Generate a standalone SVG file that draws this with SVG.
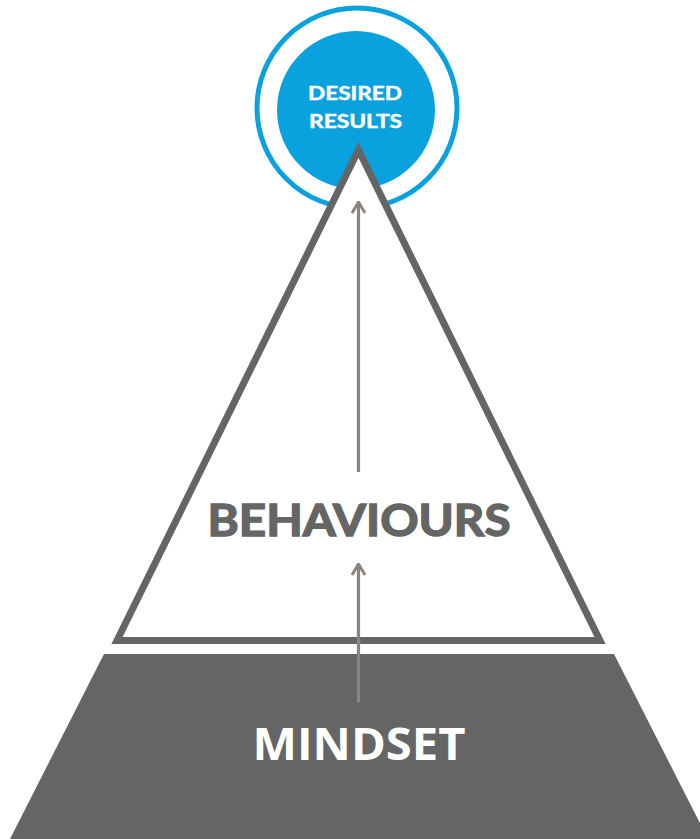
<svg xmlns="http://www.w3.org/2000/svg" width="700" height="839" viewBox="0 0 700 839">
<defs>
<style>
.blue{fill:#0aa1df}
.ring{fill:none;stroke:#0aa1df;stroke-width:5}
.tri{fill:#ffffff;stroke:#646564;stroke-width:7;stroke-linejoin:miter}
.base{fill:#646564}
.conn{stroke:#8d8480;stroke-width:3.2;fill:none}
.lbl{font-family:"Lato","Liberation Sans",sans-serif;font-weight:bold;text-anchor:middle}
</style>
<marker id="ah" viewBox="0 0 14 16" refX="12.5" refY="8" markerWidth="14" markerHeight="16" markerUnits="userSpaceOnUse" orient="auto">
<path d="M1.5,1.5 L12.5,8 L1.5,14.5" fill="none" stroke="#8d8480" stroke-width="3"/>
</marker>
</defs>
<rect width="700" height="839" fill="#ffffff"/>
<g id="desired-results">
<circle class="ring" cx="357" cy="108" r="100"/>
<circle class="blue" cx="356" cy="110" r="79"/>
</g>
<g id="behaviours">
<polygon class="tri" points="358.5,150 117,640.5 600,640.5"/>
<text class="lbl" x="359" y="536" font-size="44" fill="#646564" stroke="#646564" stroke-width="1.4" textLength="303" lengthAdjust="spacingAndGlyphs">BEHAVIOURS</text>
</g>
<g id="mindset">
<polygon class="base" points="104,654 614,654 708,839 10,839"/>
<text class="lbl" x="359" y="760" font-size="45" fill="#ffffff" textLength="213" lengthAdjust="spacingAndGlyphs" style="font-family:'Open Sans','Liberation Sans',sans-serif">MINDSET</text>
</g>
<g id="desired-text">
<text class="lbl" x="355" y="100" font-size="19" fill="#ffffff" stroke="#ffffff" stroke-width="0.5" textLength="94" lengthAdjust="spacingAndGlyphs">DESIRED</text>
<text class="lbl" x="355.5" y="128" font-size="19" fill="#ffffff" stroke="#ffffff" stroke-width="0.5" textLength="93" lengthAdjust="spacingAndGlyphs">RESULTS</text>
</g>
<g id="connectors">
<line class="conn" x1="358.5" y1="472" x2="358.5" y2="202" marker-end="url(#ah)"/>
<line class="conn" x1="358.5" y1="702" x2="358.5" y2="564" marker-end="url(#ah)"/>
</g>
</svg>
